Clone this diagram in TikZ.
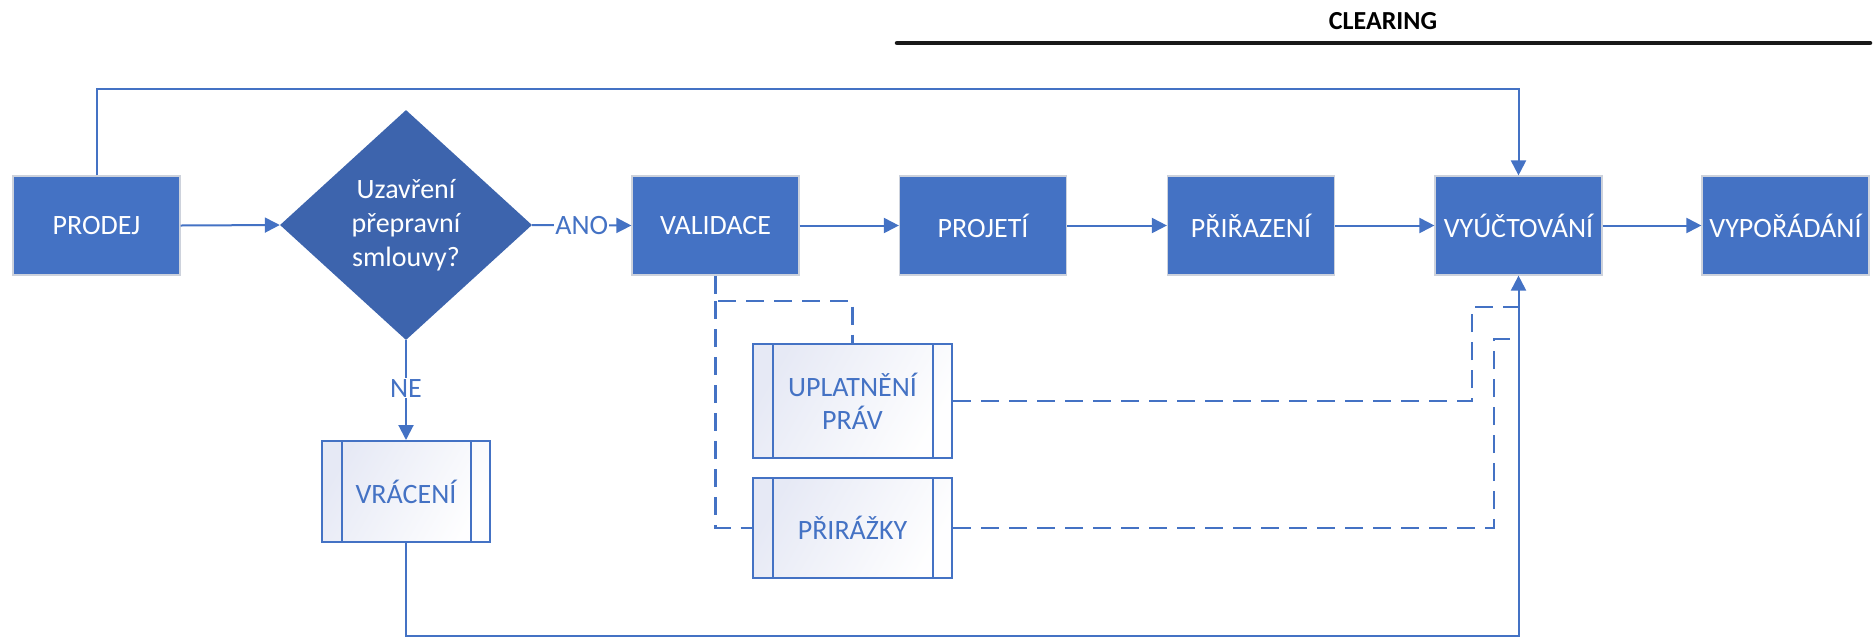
\documentclass[tikz,border=0pt]{standalone}
\usepackage{fontspec}
\setmainfont{Carlito}
\usetikzlibrary{arrows.meta,shapes.geometric,calc}
\definecolor{boxblue}{RGB}{68,114,196}
\definecolor{diablue}{RGB}{61,100,173}
\definecolor{lineblue}{RGB}{68,114,196}
\definecolor{lav}{RGB}{230,233,245}
\definecolor{edgegray}{RGB}{205,210,220}
\tikzset{
  procbox/.style={rectangle, draw=edgegray, line width=1.2pt, fill=boxblue,
    minimum width=167pt, minimum height=99pt, inner sep=0pt,
    text=white, font=\fontsize{28}{33}\selectfont},
  subbox/.style={rectangle, draw=lineblue, line width=2pt,
    left color=lav, right color=white!97!lav, shading angle=60,
    minimum width=199pt, inner sep=0pt, align=center,
    text=boxblue, font=\fontsize{28}{33}\selectfont},
  decbox/.style={diamond, fill=diablue, draw=none, aspect=1.1,
    minimum width=252pt, minimum height=230pt, inner sep=0pt, align=center,
    text=white, font=\fontsize{28}{34}\selectfont},
  conn/.style={draw=lineblue, line width=2pt},
  arr/.style={conn, -{Triangle[length=15pt,width=15pt]}},
  dconn/.style={draw=lineblue, line width=2.5pt, dash pattern=on 18pt off 10pt},
  lbl/.style={fill=white, inner sep=1pt, text=boxblue, font=\fontsize{28}{33}\selectfont},
}
\begin{document}
\begin{tikzpicture}[x=1pt,y=-1pt]
\useasboundingbox (0,0) rectangle (1876,638);
% header
\node[font=\fontsize{26}{30}\selectfont\bfseries] (clr) at (1383,21) {CLEARING};
\coordinate (hl) at (897,43);
\coordinate (hr) at (1870,43);
\draw[line width=4.5pt, line cap=round, black!90] (hl) -- (hr);
% main nodes
\node[procbox] (prodej) at (96.5,225.5) {PRODEJ};
\node[decbox] (dec) at (406,225) {Uzavření\\přepravní\\smlouvy?};
\node[procbox] (valid) at (715.5,225.5) {VALIDACE};
\node[procbox] (proj) at (983,225.5) {PROJETÍ};
\node[procbox] (prir) at (1251,225.5) {PŘIŘAZENÍ};
\node[procbox] (vyuct) at (1518.5,225.5) {VYÚČTOVÁNÍ};
\node[procbox] (vypor) at (1785.5,225.5) {VYPOŘÁDÁNÍ};
% subprocess nodes
\node[subbox, minimum width=168pt, minimum height=101pt] (vrac) at (406,491.5) {VRÁCENÍ};
\node[subbox, minimum height=114pt] (upl) at (852.5,401) {UPLATNĚNÍ\\PRÁV};
\node[subbox, minimum height=100pt] (priraz) at (852.5,528) {PŘIRÁŽKY};
\foreach \n in {vrac,upl,priraz}{
  \draw[draw=lineblue, line width=2pt] ([xshift=20.5pt]\n.north west) -- ([xshift=20.5pt]\n.south west);
  \draw[draw=lineblue, line width=2pt] ([xshift=-20.5pt]\n.north east) -- ([xshift=-20.5pt]\n.south east);
}
% solid connectors
\draw[arr] (prodej.east) -- (dec.west);
\draw[arr] (dec.east) -- node[lbl, pos=0.5] (ano) {ANO} (valid.west);
\draw[arr] (valid.east) -- (proj.west);
\draw[arr] (proj.east) -- (prir.west);
\draw[arr] (prir.east) -- (vyuct.west);
\draw[arr] (vyuct.east) -- (vypor.west);
\draw[arr] (dec.south) -- node[lbl, pos=0.48] (ne) {NE} (vrac.north);
\coordinate (topl) at (96.5,89);
\coordinate (topr) at (1518.5,89);
\draw[arr] (prodej.north) -- (topl) -- (topr) -- (vyuct.north);
\coordinate (botl) at (406,636);
\coordinate (botr) at (1518.5,636);
\draw[arr] (vrac.south) -- (botl) -- (botr) -- (vyuct.south);
% dashed connectors
\coordinate (d1) at (715.5,301);
\coordinate (d2) at (852.5,301);
\coordinate (d3) at (715.5,528);
\draw[dconn] (valid.south) -- (d1) -- (d2) -- (upl.north);
\draw[dconn] (d1) -- (d3) -- (priraz.west);
\coordinate (e1) at (1472,401);
\coordinate (e2) at (1472,307);
\coordinate (e3) at (1518.5,307);
\draw[dconn] (upl.east) -- (e1) -- (e2) -- (e3);
\coordinate (f1) at (1494,528);
\coordinate (f2) at (1494,339);
\coordinate (f3) at (1518.5,339);
\draw[dconn] (priraz.east) -- (f1) -- (f2) -- (f3);
\end{tikzpicture}
\end{document}
